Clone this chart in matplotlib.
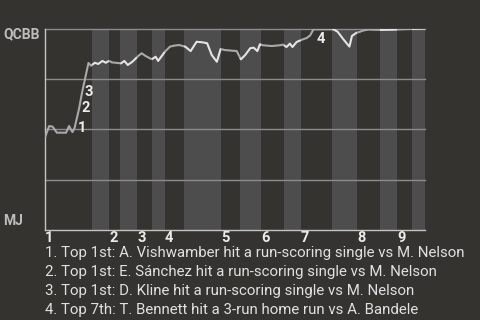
import numpy as np
import matplotlib
matplotlib.use("Agg")
import matplotlib.pyplot as plt

# game progress (plate appearances, roughly) and QCBB win probability in %
progress = [0, 1.0, 1.8, 2.8, 5.0, 5.7, 6.5, 7.0, 8.1, 8.8,
            10.3, 10.9, 11.8, 12.6, 13.6, 14.4, 15.2, 15.8, 18.0, 18.8,
            19.6, 20.7, 22.1, 22.9, 23.8, 25.3, 26.2, 26.8, 28.4, 29.6,
            30.6, 31.8, 33.2, 34.5, 35.9, 37.1, 38.4, 39.5, 40.7, 41.6,
            42.6, 45.4, 46.4, 47.4, 48.6, 49.4, 50.3, 50.9, 51.5, 53.7,
            55.7, 56.4, 57.2, 58.0, 58.6, 59.6, 60.8, 62.0, 62.8, 63.6,
            68.3, 69.3, 70.8, 72.1, 72.7, 73.7, 74.6, 75.4, 76.6, 79.3,
            82.4, 86.9, 90.0]
win_prob = [46.0, 51.6, 51.3, 48.3, 48.3, 51.6, 48.6, 50.6, 60.5, 68.5,
            82.9, 81.5, 83.0, 82.4, 83.9, 83.0, 84.0, 83.2, 82.7, 83.9,
            81.9, 83.5, 86.4, 87.7, 86.4, 84.7, 86.0, 83.9, 88.5, 91.0,
            91.5, 91.8, 91.0, 88.8, 93.4, 93.2, 92.7, 86.8, 83.5, 89.8,
            89.3, 88.8, 84.7, 86.8, 90.2, 90.5, 88.8, 92.2, 91.7, 91.3,
            91.7, 92.0, 90.8, 92.5, 90.8, 93.3, 94.4, 95.3, 96.6, 99.6,
            99.6, 98.4, 94.3, 91.0, 96.3, 97.8, 98.4, 99.0, 99.5, 99.3,
            99.4, 99.8, 100.0]

# where each half inning starts
top_starts = [0, 15.2, 21.8, 28.4, 41.7, 51.2, 60.6, 73.9, 83.4]
bottom_starts = [11.1, 17.8, 25.3, 32.9, 46.2, 56.6, 68.0, 79.3, 86.9]
game_end = 90.0
innings = ["1", "2", "3", "4", "5", "6", "7", "8", "9"]

# key plays
event_progress = [7.0, 8.1, 8.8, 63.6]
event_notes = [
    "Top 1st: A. Vishwamber hit a run-scoring single vs M. Nelson",
    "Top 1st: E. Sánchez hit a run-scoring single vs M. Nelson",
    "Top 1st: D. Kline hit a run-scoring single vs M. Nelson",
    "Top 7th: T. Bennett hit a 3-run home run vs A. Bandele",
]

BG = "#353330"
STRIPE = "#4d4d4d"
plt.rcParams["font.family"] = ["Roboto", "DejaVu Sans"]

fig = plt.figure(figsize=(4.8, 3.2), dpi=100, facecolor=BG)
ax = fig.add_axes([45 / 480, 90 / 320, 380 / 480, 201.5 / 320])
ax.set_facecolor(BG)
ax.set_xlim(0, game_end)
ax.set_ylim(0, 100)

# bottom halves get a lighter stripe
ends = top_starts[1:] + [game_end]
for b, e in zip(bottom_starts, ends):
    ax.axvspan(b, e, color=STRIPE, lw=0, zorder=0)

for g in [25, 50, 75, 100]:
    ax.axhline(g, color="#8c8c8c", lw=1, zorder=1, clip_on=False)

# line is gray during top halves, white during bottom halves
x = np.array(progress)
y = np.array(win_prob)
halves = sorted([(s, "top") for s in top_starts] + [(s, "bot") for s in bottom_starts])
bounds = [h[0] for h in halves] + [game_end]
for (start, kind), stop in zip(halves, bounds[1:]):
    inside = (x > start) & (x < stop)
    xs = np.concatenate([[start], x[inside], [stop]])
    ys = np.interp(xs, x, y)
    col = "#a9a9a9" if kind == "top" else "#e4e4e4"
    ax.plot(xs, ys, color=col, lw=1.5, zorder=3, solid_capstyle="butt")

for i, ep in enumerate(event_progress):
    ey = min(np.interp(ep, x, y), 95)
    ax.annotate(str(i + 1), (ep, ey), xytext=(2, 0), textcoords="offset points",
                ha="left", va="center", color="#ececec", fontsize=10.5,
                fontweight="bold", zorder=4)

for side in ["top", "right"]:
    ax.spines[side].set_visible(False)
for side in ["left", "bottom"]:
    ax.spines[side].set_color("#c4c4c4")
    ax.spines[side].set_linewidth(1)

ax.set_yticks([])
ax.set_xticks(top_starts)
ax.set_xticklabels(innings, ha="left", fontsize=10.5, fontweight="bold", color="#ececec")
ax.tick_params(axis="x", length=0, pad=1)

fig.text(3 / 480, 1 - 38.5 / 320, "QCBB", color="#bdbdbd", fontsize=10,
         fontweight="bold", va="baseline", ha="left")
fig.text(3 / 480, 1 - 225 / 320, "MJ", color="#bdbdbd", fontsize=10,
         fontweight="bold", va="baseline", ha="left")

for i, note in enumerate(event_notes):
    fig.text(45 / 480, 1 - (257.5 + 18.7 * i) / 320, f"{i + 1}. {note}",
             color="#e0e0e0", fontsize=10.85, va="baseline", ha="left")

fig.savefig("out.png", dpi=100, facecolor=BG)
